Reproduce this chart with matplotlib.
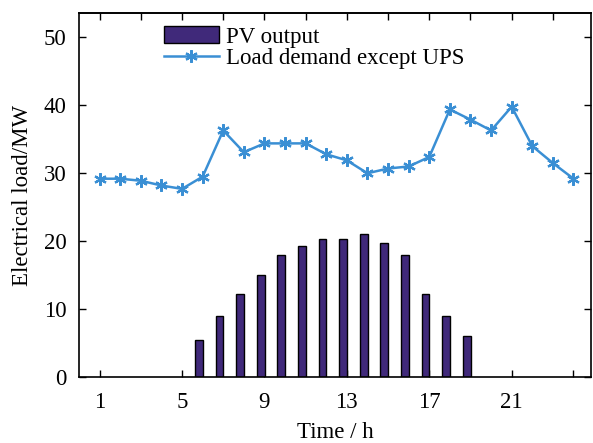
import matplotlib
matplotlib.use("Agg")
import matplotlib.pyplot as plt
import numpy as np

hours = list(range(1, 25))
pv_output = [0, 0, 0, 0, 0, 5.4, 9.0, 12.2, 15.0, 17.9, 19.3, 20.3,
             20.3, 21.0, 19.7, 17.9, 12.2, 9.0, 6.1, 0, 0, 0, 0, 0]
load_demand = [29.2, 29.2, 28.9, 28.2, 27.7, 29.5, 36.3, 33.1, 34.4, 34.4,
               34.4, 32.8, 31.9, 30.0, 30.7, 31.0, 32.4, 39.4, 37.9, 36.3,
               39.8, 34.0, 31.5, 29.2]
xtick_vals = [1, 5, 9, 13, 17, 21]
ytick_vals = [0, 10, 20, 30, 40, 50]

plt.rcParams['font.family'] = ['Liberation Serif', 'DejaVu Serif']

fig = plt.figure(figsize=(5.93, 4.43), dpi=100)
ax = fig.add_axes([79/593, 1-377/443, (591-79)/593, (377-13)/443])

x = np.array(hours)
pv = np.array(pv_output)
mask = pv > 0
bars = ax.bar(x[mask] - 0.18, pv[mask], width=0.38, color='#40297a',
              edgecolor='black', linewidth=1.0, label='PV output', zorder=2)
line, = ax.plot(x, load_demand, color='#3a8fd4', linewidth=1.8, marker=(6, 2, 0),
                markersize=9, markeredgewidth=1.6, label='Load demand except UPS', zorder=3)

ax.set_xlim(0, 24.85)
ax.set_ylim(0, 53.6)
ax.set_xticks(xtick_vals + [24])
ax.set_xticklabels([str(v) for v in xtick_vals] + [''])
ax.set_yticks(ytick_vals)
ax.tick_params(axis='both', direction='in', length=5, width=1, labelsize=16.5,
               right=True, top=False, pad=9)
ax.tick_params(axis='x', pad=11)
sec = ax.secondary_xaxis('top')
sec.set_xticks(list(range(1, 24, 2)))
sec.set_xticklabels([])
sec.tick_params(direction='in', length=5, width=1)
for s in ax.spines.values():
    s.set_linewidth(1.2)
sec.spines['top'].set_linewidth(1.2)

ax.set_xlabel('Time / h', fontsize=16.5, labelpad=6)
ax.set_ylabel('Electrical load/MW', fontsize=16.5, labelpad=8)

leg = ax.legend([bars, line], ['PV output', 'Load demand except UPS'],
                loc='upper left', bbox_to_anchor=(0.148, 0.99), frameon=False,
                fontsize=16.5, handlelength=2.4, handleheight=0.8,
                handletextpad=0.3, labelspacing=0.0, borderaxespad=0)

fig.savefig('out.png', dpi=100)
